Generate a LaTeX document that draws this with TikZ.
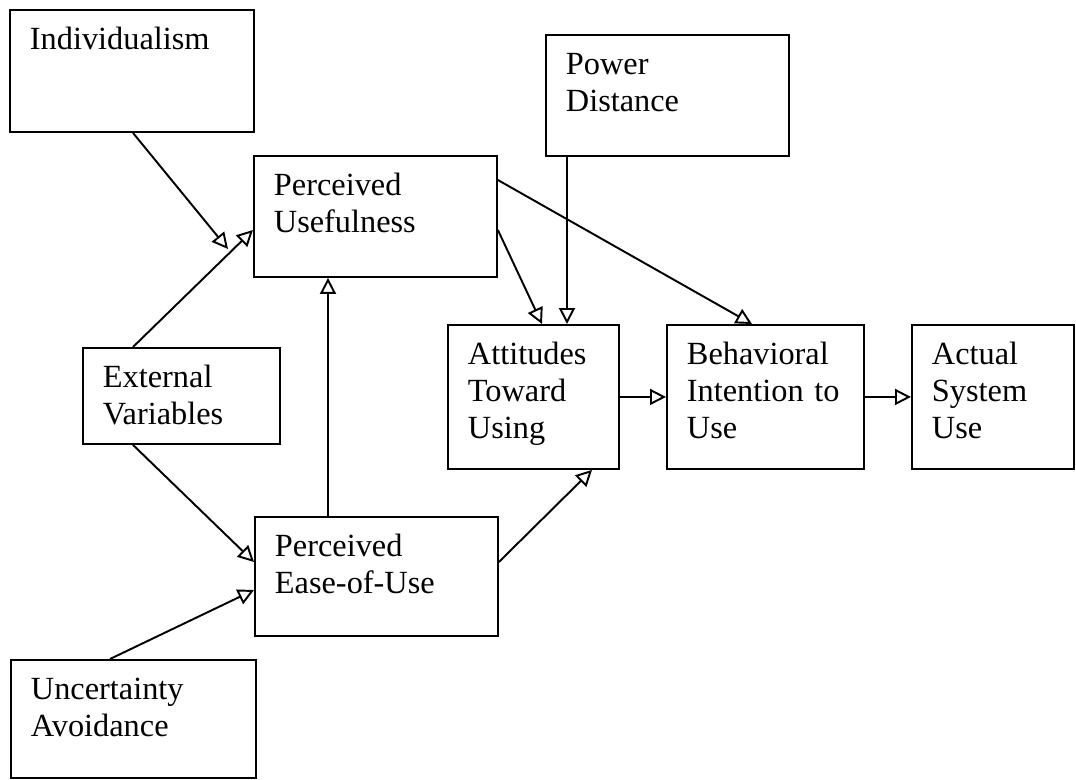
\documentclass[tikz,border=0pt]{standalone}
\usepackage{fontspec}
\setmainfont{Liberation Serif}
\usetikzlibrary{arrows.meta,calc}
\begin{document}
\begin{tikzpicture}[
            x=0.02cm, y=-0.02cm,
            box/.style={draw, line width=1.1pt, anchor=north west, align=left,
                inner xsep=0.4cm, inner ysep=0pt, text height=0.8cm,
                font=\fontsize{18.4}{21}\selectfont},
            link/.style={line width=1.1pt, -{Triangle[open, length=0.32cm, width=0.32cm]}}
        ]
        \useasboundingbox (0,0) rectangle (1076,779);
        \node[box, text width=4.08cm, text depth=1.64cm] (ind) at (9,9) {Individualism};
        \node[box, text width=4.06cm, text depth=1.62cm] (pd) at (545,34) {Power\\Distance};
        \node[box, text width=4.06cm, text depth=1.62cm] (pu) at (253,155) {Perceived\\Usefulness};
        \node[box, text width=3.14cm, text depth=1.12cm] (ev) at (82,347) {External\\Variables};
        \node[box, text width=2.62cm, text depth=2.08cm] (att) at (447,324) {Attitudes\\Toward\\Using};
        \node[box, text width=3.14cm, text depth=2.08cm] (bi) at (666,324) {Behavioral\\Intention to\\Use};
        \node[box, text width=2.44cm, text depth=2.08cm] (asu) at (911,324) {Actual\\System\\Use};
        \node[box, text width=4.06cm, text depth=1.58cm] (peou) at (254,516) {Perceived\\Ease-of-Use};
        \node[box, text width=4.10cm, text depth=1.56cm] (ua) at (10,659) {Uncertainty\\Avoidance};
        \coordinate (indtip) at (228,249);
        \draw[link] ($(ind.south west)+(124,0)$) -- (indtip);
        \draw[link] ($(ev.north west)+(51,0)$) -- ($(pu.north west)+(0,75)$);
        \draw[link] ($(ev.south west)+(51,0)$) -- ($(peou.north west)+(0,46)$);
        \draw[link] ($(ua.north west)+(100,0)$) -- ($(peou.north west)+(0,74)$);
        \draw[link] ($(peou.north west)+(74,0)$) -- ($(pu.south west)+(75,0)$);
        \draw[link] ($(pu.north east)+(0,75)$) -- ($(att.north west)+(95,0)$);
        \draw[link] ($(pd.south west)+(22,0)$) -- ($(att.north west)+(120,0)$);
        \draw[link] ($(pu.north east)+(0,25)$) -- ($(bi.north west)+(86,0)$);
        \draw[link] ($(peou.north east)+(0,46)$) -- ($(att.south west)+(145,0)$);
        \draw[link] (att.east) -- (bi.west);
        \draw[link] (bi.east) -- (asu.west);
    \end{tikzpicture}
\end{document}
